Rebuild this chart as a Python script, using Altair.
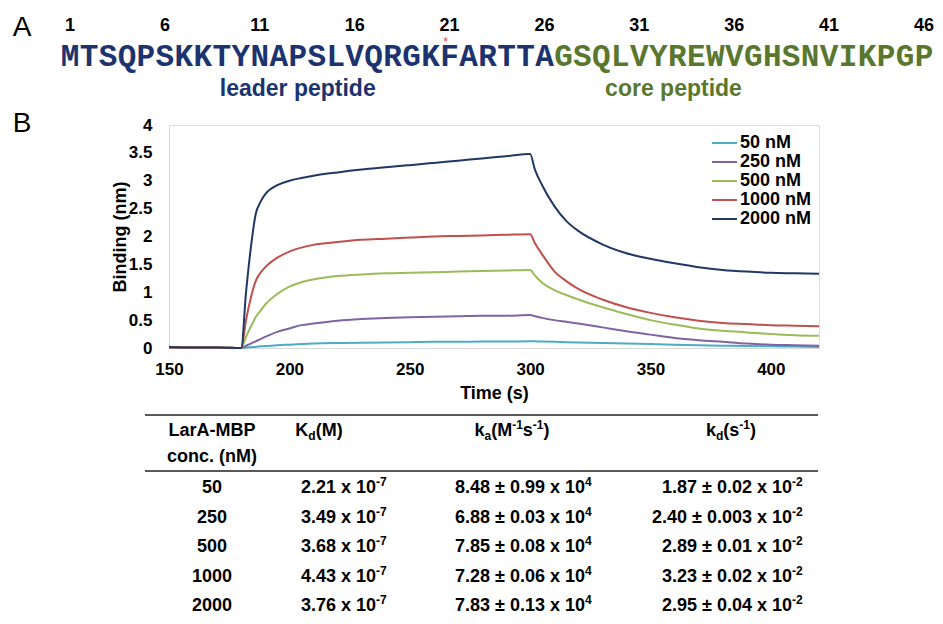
import altair as alt
import pandas as pd

# ---------------- Panel A data ----------------
LEADER = "MTSQPSKKTYNAPSLVQRGKFARTTA"
CORE = "GSQLVYREWVGHSNVIKPGP"
POSITION_NUMBERS = [1, 6, 11, 16, 21, 26, 31, 36, 41, 46]
MARKED_RESIDUE = [21]
REGION_NAMES = ["leader peptide", "core peptide"]

# ---------------- Panel B data ----------------
SERIES = ["50 nM", "250 nM", "500 nM", "1000 nM", "2000 nM"]
TIME = [150, 160, 170, 180, 182, 184, 186, 188, 190, 195, 200, 205, 210,
        220, 230, 240, 250, 260, 270, 280, 290, 300, 302, 305, 310, 315, 320,
        330, 340, 350, 360, 370, 380, 390, 400, 410, 420]
B50 = [0.01, 0.01, 0.01, 0.0, 0.01, 0.015, 0.02, 0.03, 0.035, 0.05, 0.06, 0.07, 0.08,
       0.09, 0.095, 0.1, 0.105, 0.11, 0.11, 0.115, 0.115, 0.12, 0.12, 0.115, 0.11, 0.105, 0.1,
       0.09, 0.08, 0.07, 0.06, 0.05, 0.04, 0.035, 0.03, 0.025, 0.02]
B250 = [0.01, 0.01, 0.01, 0.0, 0.04, 0.08, 0.12, 0.16, 0.2, 0.29, 0.35, 0.41, 0.44,
        0.49, 0.52, 0.54, 0.55, 0.56, 0.57, 0.58, 0.58, 0.59, 0.57, 0.54, 0.5, 0.47, 0.44,
        0.37, 0.3, 0.24, 0.18, 0.14, 0.11, 0.08, 0.06, 0.05, 0.04]
B500 = [0.01, 0.01, 0.01, 0.0, 0.2, 0.38, 0.55, 0.67, 0.78, 0.97, 1.1, 1.18, 1.23,
        1.29, 1.32, 1.34, 1.35, 1.36, 1.37, 1.38, 1.39, 1.40, 1.3, 1.17, 1.04, 0.95, 0.87,
        0.73, 0.61, 0.5, 0.42, 0.35, 0.31, 0.28, 0.25, 0.23, 0.22]
B1000 = [0.01, 0.01, 0.01, 0.0, 0.5, 0.9, 1.2, 1.35, 1.45, 1.62, 1.73, 1.8, 1.85,
         1.9, 1.94, 1.96, 1.98, 2.0, 2.01, 2.02, 2.03, 2.04, 1.88, 1.68, 1.38, 1.2, 1.06,
         0.87, 0.73, 0.63, 0.55, 0.49, 0.45, 0.43, 0.41, 0.40, 0.39]
B2000 = [0.02, 0.01, 0.01, 0.0, 1.0, 1.8, 2.4, 2.62, 2.76, 2.92, 3.0, 3.05, 3.09,
         3.15, 3.2, 3.24, 3.28, 3.32, 3.36, 3.40, 3.44, 3.48, 3.2, 2.92, 2.55, 2.28, 2.1,
         1.86, 1.7, 1.6, 1.52, 1.45, 1.4, 1.37, 1.35, 1.34, 1.33]
Y_TICKS = [0, 0.5, 1, 1.5, 2, 2.5, 3, 3.5, 4]
X_TICKS = [150, 200, 250, 300, 350, 400]

# ---------------- Table data ----------------
CONC = ["50", "250", "500", "1000", "2000"]
KD_M_VALUE = ["2.21", "3.49", "3.68", "4.43", "3.76"]
KD_M_EXP = ["-7", "-7", "-7", "-7", "-7"]
KA_VALUE = ["8.48 \u00b1 0.99", "6.88 \u00b1 0.03", "7.85 \u00b1 0.08", "7.28 \u00b1 0.06", "7.83 \u00b1 0.13"]
KA_EXP = ["4", "4", "4", "4", "4"]
KD_S_VALUE = ["1.87 \u00b1 0.02", "2.40 \u00b1 0.003", "2.89 \u00b1 0.01", "3.23 \u00b1 0.02", "2.95 \u00b1 0.04"]
KD_S_EXP = ["-2", "-2", "-2", "-2", "-2"]

# ---------------- styles / layout ----------------
SANS = "Liberation Sans, Arial, Helvetica, sans-serif"
MONO = "Courier New, Liberation Mono, monospace"
NAVY = "#1c336f"
OLIVE = "#5a772e"
LINE_COLORS = ["#4bacc6", "#8064a2", "#9bbb59", "#c0504d", "#1f3864"]
W, H = 650, 223
RES_RANGE = [-99, 755]

def one(text):
    return pd.DataFrame({"t": [text]})

layers = []

# ---- lines ----
rows = []
for name, vals in zip(SERIES, [B50, B250, B500, B1000, B2000]):
    for t, v in zip(TIME, vals):
        rows.append({"series": name, "t": t, "v": v})
df_lines = pd.DataFrame(rows)

axis_common = dict(labelFont=SANS, labelFontSize=17, labelFontWeight="bold", labelColor="black",
                   titleFont=SANS, titleFontSize=18, titleFontWeight="bold", titleColor="black",
                   ticks=False, tickSize=0, grid=False, domainColor="#d9d9d9", domainWidth=1,
                   labelFlush=False)

lines = alt.Chart(df_lines).mark_line(strokeWidth=2, interpolate="monotone").encode(
    x=alt.X("t:Q", scale=alt.Scale(domain=[150, 420], nice=False, zero=False),
            axis=alt.Axis(values=X_TICKS, title="Time (s)", labelPadding=13,
                          titleX=W / 2, titleY=45, titleBaseline="middle", **axis_common)),
    y=alt.Y("v:Q", scale=alt.Scale(domain=[0, 4], nice=False),
            axis=alt.Axis(values=Y_TICKS, format="~g", title="Binding (nm)", labelPadding=17,
                          titleX=-49, titleY=H / 2, titleBaseline="middle", **axis_common)),
    color=alt.Color("series:N", scale=alt.Scale(domain=SERIES, range=LINE_COLORS), legend=None),
)
layers.append(lines)

# ---- manual legend ----
df_leg = pd.DataFrame({"series": SERIES})
leg_y = alt.Y("series:N", scale=alt.Scale(type="point", domain=SERIES, range=[18, 94], padding=0), axis=None)
layers.append(alt.Chart(df_leg).mark_rule(strokeWidth=2).encode(
    x=alt.value(543), x2=alt.value(568), y=leg_y,
    color=alt.Color("series:N", scale=alt.Scale(domain=SERIES, range=LINE_COLORS), legend=None)))
layers.append(alt.Chart(df_leg).mark_text(align="left", baseline="middle", font=SANS, fontSize=18,
                                          fontWeight="bold", color="black").encode(
    x=alt.value(571), y=leg_y, text="series:N"))

# ---- panel letters ----
layers.append(alt.Chart(one("A")).mark_text(font=SANS, fontSize=28, color="black", baseline="middle").encode(
    x=alt.value(-147), y=alt.value(-97), text="t:N"))
layers.append(alt.Chart(one("B")).mark_text(font=SANS, fontSize=28, color="black", baseline="middle").encode(
    x=alt.value(-147), y=alt.value(-1), text="t:N"))

# ---- sequence ----
res_x = lambda: alt.X("idx:Q", scale=alt.Scale(domain=[1, 46], range=RES_RANGE, nice=False, zero=False), axis=None)
df_leader = pd.DataFrame({"idx": list(range(1, len(LEADER) + 1)), "letter": list(LEADER)})
df_core = pd.DataFrame({"idx": list(range(len(LEADER) + 1, len(LEADER) + len(CORE) + 1)), "letter": list(CORE)})
for dfl, col in [(df_leader, NAVY), (df_core, OLIVE)]:
    layers.append(alt.Chart(dfl).mark_text(font=MONO, fontSize=31, fontWeight="bold", color=col,
                                           baseline="middle").encode(
        x=res_x(), y=alt.value(-68), text="letter:N"))

df_num = pd.DataFrame({"idx": POSITION_NUMBERS, "lab": [str(n) for n in POSITION_NUMBERS]})
layers.append(alt.Chart(df_num).mark_text(font=SANS, fontSize=18, fontWeight="bold", color="black",
                                          baseline="middle").encode(
    x=res_x(), y=alt.value(-99), text="lab:N"))

df_star = pd.DataFrame({"idx": MARKED_RESIDUE, "s": ["*"] * len(MARKED_RESIDUE)})
layers.append(alt.Chart(df_star).mark_text(font=SANS, fontSize=12, color="#e8383d", baseline="middle",
                                           dx=-4).encode(
    x=res_x(), y=alt.value(-83), text="s:N"))

REGION_POS = [13.0, 32.8]
for name, pos, col in zip(REGION_NAMES, REGION_POS, [NAVY, OLIVE]):
    layers.append(alt.Chart(pd.DataFrame({"idx": [pos], "t": [name]})).mark_text(
        font=SANS, fontSize=23, fontWeight="bold", color=col, baseline="middle").encode(
        x=res_x(), y=alt.value(-36), text="t:N"))

# ---- table ----
for yy in [290, 346]:
    layers.append(alt.Chart(one("r")).mark_rule(color="#222222", strokeWidth=1.5).encode(
        x=alt.value(-24), x2=alt.value(649), y=alt.value(yy)))

MAIN_SIZE, SMALL_SIZE = 18, 12
tfont = dict(font=SANS, fontSize=MAIN_SIZE, fontWeight="bold", color="black", baseline="middle")
small = dict(font=SANS, fontSize=SMALL_SIZE, fontWeight="bold", color="black", baseline="middle")

# Arial-bold advance widths (per 1000 em) used to lay out sub/superscript pieces
ADV = {" ": 278, "(": 333, ")": 333, "-": 333, ".": 278, "x": 556, "\u00b1": 549, "K": 722,
       "k": 556, "d": 611, "a": 556, "M": 833, "s": 556}
def width(text, size):
    return sum(ADV.get(c, 556) for c in text) * size / 1000.0

def txt(text, x, y, align="center", dx=0, style=None):
    st = dict(tfont if style is None else style)
    return alt.Chart(one(text)).mark_text(align=align, dx=dx, **st).encode(
        x=alt.value(x), y=alt.value(y), text="t:N")

def rich(segments, cx, y):
    sizes = {"n": MAIN_SIZE, "sub": SMALL_SIZE, "sup": SMALL_SIZE}
    shift = {"n": 0, "sub": 5, "sup": -6}
    total = sum(width(t, sizes[k]) for t, k in segments)
    left = cx - total / 2
    out = []
    for t, k in segments:
        out.append(txt(t, left, y + shift[k], "left", style=tfont if k == "n" else small))
        left += width(t, sizes[k])
    return out

HY = 306
layers += [txt("LarA-MBP", 43, HY), txt("conc. (nM)", 43, 332)]
layers += rich([("K", "n"), ("d", "sub"), ("(M)", "n")], 150, HY)
layers += rich([("k", "n"), ("a", "sub"), ("(M", "n"), ("-1", "sup"), ("s", "n"), ("-1", "sup"), (")", "n")], 343, HY)
layers += rich([("k", "n"), ("d", "sub"), ("(s", "n"), ("-1", "sup"), (")", "n")], 562, HY)

df_tab = pd.DataFrame({
    "conc": CONC,
    "kdm": [v + " x 10" for v in KD_M_VALUE], "kdm_e": KD_M_EXP,
    "ka": [v + " x 10" for v in KA_VALUE], "ka_e": KA_EXP,
    "kds": [v + " x 10" for v in KD_S_VALUE], "kds_e": KD_S_EXP,
})
row_y = alt.Y("conc:N", scale=alt.Scale(type="point", domain=CONC, range=[363, 481], padding=0), axis=None)
layers.append(alt.Chart(df_tab).mark_text(align="center", **tfont).encode(
    x=alt.value(43), y=row_y, text="conc:N"))
for field, anchor in [("kdm", 207), ("ka", 416), ("kds", 623)]:
    layers.append(alt.Chart(df_tab).mark_text(align="right", **tfont).encode(
        x=alt.value(anchor), y=row_y, text=f"{field}:N"))
    layers.append(alt.Chart(df_tab).mark_text(align="left", dy=-6, **small).encode(
        x=alt.value(anchor), y=row_y, text=f"{field}_e:N"))

chart = alt.layer(*layers).resolve_scale(
    x="independent", y="independent", color="shared"
).properties(
    width=W, height=H,
    padding={"left": 161, "top": 117, "right": 116, "bottom": 268},
    autosize=alt.AutoSizeParams(type="none"),
).configure_view(stroke=None).configure(background="white")

chart.save("out.html", embed_options={"renderer": "svg", "actions": False})
